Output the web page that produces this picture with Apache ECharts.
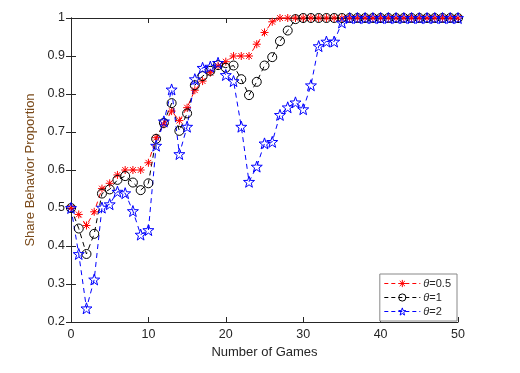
<!DOCTYPE html>
<html>
<head>
<meta charset="utf-8">
<script src="https://cdn.jsdelivr.net/npm/echarts@6/dist/echarts.min.js"></script>
<style>
	html, body { margin: 0; padding: 0; background: #fff; }
	#chart { width: 520px; height: 373px; }
</style>
</head>
<body>
<div id="chart"></div>
<script>
// games 0..50
const games = [];
for (let i = 0; i <= 50; i++) games.push(i);

const theta05 = [
	0.5, 0.483, 0.454, 0.49, 0.551, 0.565, 0.587, 0.6, 0.6, 0.6,
	0.619, 0.685, 0.72, 0.755, 0.73, 0.764, 0.81, 0.834, 0.856, 0.874,
	0.885, 0.9, 0.9, 0.9, 0.931, 0.962, 0.99, 1, 1, 1,
	1, 1, 1, 1, 1, 1, 1, 1, 1, 1,
	1, 1, 1, 1, 1, 1, 1, 1, 1, 1, 1
];
const theta1 = [
	0.5, 0.446, 0.379, 0.432, 0.538, 0.549, 0.574, 0.584, 0.567, 0.547,
	0.565, 0.682, 0.724, 0.776, 0.703, 0.749, 0.823, 0.847, 0.861, 0.876,
	0.869, 0.875, 0.839, 0.797, 0.832, 0.875, 0.897, 0.939, 0.967, 0.997,
	1, 1, 1, 1, 1, 1, 1, 1, 1, 1,
	1, 1, 1, 1, 1, 1, 1, 1, 1, 1, 1
];
const theta2 = [
	0.5, 0.379, 0.236, 0.312, 0.501, 0.51, 0.543, 0.539, 0.492, 0.43,
	0.442, 0.664, 0.728, 0.812, 0.642, 0.714, 0.839, 0.869, 0.872, 0.882,
	0.85, 0.834, 0.714, 0.569, 0.609, 0.67, 0.674, 0.745, 0.765, 0.778,
	0.76, 0.823, 0.926, 0.938, 0.938, 0.988, 1, 1, 1, 1,
	1, 1, 1, 1, 1, 1, 1, 1, 1, 1, 1
];
const seriesNames = ['{i|θ}=0.5', '{i|θ}=1', '{i|θ}=2'];

const asterisk = 'path://M0,-5L0,5M-5,0L5,0M-3.6,-3.6L3.6,3.6M-3.6,3.6L3.6,-3.6';
const star = 'path://M0,-5L1.18,-1.62L4.76,-1.55L1.9,0.62L2.94,4.05L0,2L-2.94,4.05L-1.9,0.62L-4.76,-1.55L-1.18,-1.62Z';

const font = 'Liberation Sans, Arial, sans-serif';
const chart = echarts.init(document.getElementById('chart'), null, { renderer: 'canvas' });

function makeSeries(name, data, color, symbol, size) {
	return {
		name: name,
		type: 'line',
		data: games.map((g, i) => [g, data[i]]),
		symbol: symbol,
		symbolSize: size,
		showAllSymbol: true,
		lineStyle: { color: color, width: 1, type: [5, 4] },
		itemStyle: { color: 'rgba(0,0,0,0)', borderColor: color, borderWidth: 1 },
		animation: false
	};
}

const axisCommon = {
	axisLine: { show: true, lineStyle: { color: '#262626', width: 1 } },
	axisTick: { show: true, inside: true, length: 5, lineStyle: { color: '#262626' } },
	splitLine: { show: false }
};

chart.setOption({
	backgroundColor: '#fff',
	animation: false,
	grid: { left: 71, right: 62, top: 18, bottom: 51 },
	legend: {
		orient: 'vertical',
		right: 63,
		bottom: 52,
		padding: [4, 6, 4, 4],
		itemWidth: 36,
		itemHeight: 9,
		itemGap: 3,
		backgroundColor: '#fff',
		borderColor: '#888',
		borderWidth: 1,
		borderRadius: 0,
		data: seriesNames,
		lineStyle: { width: 1, type: [4, 3] },
		itemStyle: { borderWidth: 1 },
		textStyle: {
			fontFamily: font,
			fontSize: 11,
			color: '#262626',
			padding: [0, 0, 0, -2],
			rich: { i: { fontStyle: 'italic', fontFamily: font, fontSize: 11, color: '#262626' } }
		}
	},
	xAxis: [{
		type: 'value',
		min: 0,
		max: 50,
		interval: 10,
		name: 'Number of Games',
		nameLocation: 'middle',
		nameGap: 24,
		nameTextStyle: { fontFamily: font, fontSize: 13, color: '#262626' },
		axisLabel: { fontFamily: font, fontSize: 12.5, color: '#262626', margin: 6 },
		...axisCommon
	}, {
		type: 'value',
		position: 'top',
		min: 0,
		max: 50,
		interval: 10,
		axisLabel: { show: false },
		...axisCommon
	}],
	yAxis: [{
		type: 'value',
		min: 0.2,
		max: 1,
		interval: 0.1,
		name: 'Share Behavior Proportion',
		nameLocation: 'middle',
		nameGap: 32,
		nameTextStyle: { fontFamily: font, fontSize: 13, color: '#7a4a1a' },
		axisLabel: { fontFamily: font, fontSize: 12.5, color: '#262626', margin: 6 },
		...axisCommon
	}, {
		type: 'value',
		position: 'right',
		min: 0.2,
		max: 1,
		interval: 0.1,
		axisLabel: { show: false },
		...axisCommon
	}],
	series: [
		makeSeries(seriesNames[0], theta05, '#ff0000', asterisk, 8),
		makeSeries(seriesNames[1], theta1, '#000000', 'circle', 9),
		makeSeries(seriesNames[2], theta2, '#0000ff', star, 11)
	]
});
</script>
</body>
</html>
